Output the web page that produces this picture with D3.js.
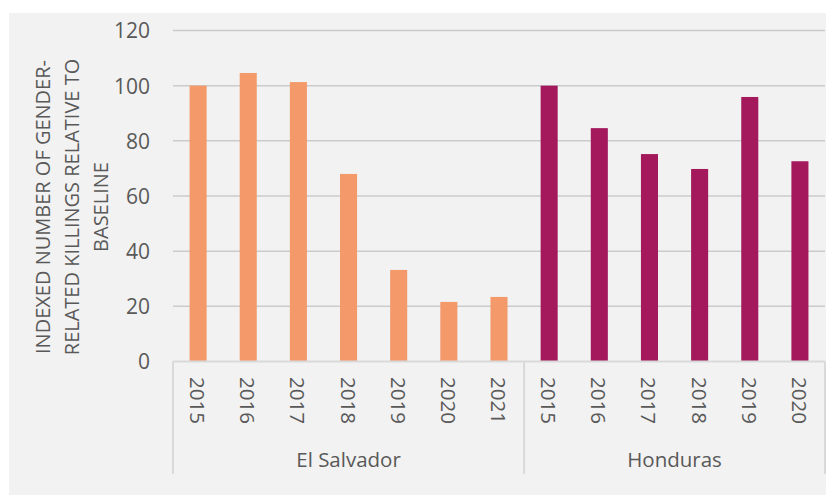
<!DOCTYPE html>
<html><head><meta charset="utf-8">
<script src="https://cdn.jsdelivr.net/npm/d3@7"></script>
<style>
html,body{margin:0;padding:0;background:#fff;}
svg{display:block;}
text{font-family:"Open Sans",sans-serif;fill:#595959;}
</style></head>
<body>
<script>
const groups = ["El Salvador", "Honduras"];
const elSalvadorYears = ["2015","2016","2017","2018","2019","2020","2021"];
const elSalvadorValues = [100, 104.6, 101.3, 68.0, 33.2, 21.6, 23.4];
const hondurasYears = ["2015","2016","2017","2018","2019","2020"];
const hondurasValues = [100, 84.6, 75.2, 69.8, 95.9, 72.6];
const groupColors = ["#f4996a", "#a3195b"];
const yTicks = [0, 20, 40, 60, 80, 100, 120];
const yTitleLines = ["INDEXED NUMBER OF GENDER-", "RELATED KILLINGS RELATIVE TO", "BASELINE"];

const W = 826, H = 495;
const rows = [];
elSalvadorYears.forEach((y,i)=>rows.push({group:0, year:y, value:elSalvadorValues[i], key:"0-"+y}));
hondurasYears.forEach((y,i)=>rows.push({group:1, year:y, value:hondurasValues[i], key:"1-"+y}));

const svg = d3.select("body").append("svg").attr("width",W).attr("height",H);
svg.append("rect").attr("x",9).attr("y",13).attr("width",W-9).attr("height",H-13).attr("fill","#f2f2f2");

const x = d3.scaleBand().domain(rows.map(d=>d.key)).range([173,825]).padding(0);
const y = d3.scaleLinear().domain([0,120]).range([361.5,30.5]);

// gridlines
svg.append("g").selectAll("line").data(yTicks.filter(t=>t>0)).join("line")
  .attr("x1",173).attr("x2",825)
  .attr("y1",d=>y(d)).attr("y2",d=>y(d))
  .attr("stroke","#cbcbcb").attr("stroke-width",1.5);

// y axis labels
const yAxis = d3.axisLeft(y).tickValues(yTicks).tickSize(0).tickPadding(0);
const gy = svg.append("g").attr("transform","translate(150,0)").call(yAxis);
gy.select(".domain").remove();
gy.selectAll("text").attr("font-size",21).attr("fill","#595959")
  .style("font-family",'"Open Sans",sans-serif').attr("dy","0.35em");

// bars
const bw = x.bandwidth()*0.34;
svg.append("g").selectAll("rect").data(rows).join("rect")
  .attr("x",d=>x(d.key)+x.bandwidth()/2-bw/2)
  .attr("width",bw)
  .attr("y",d=>y(d.value))
  .attr("height",d=>y(0)-y(d.value))
  .attr("fill",d=>groupColors[d.group]);

// x axis line
svg.append("line").attr("x1",173).attr("x2",825).attr("y1",y(0)).attr("y2",y(0))
  .attr("stroke","#d9d9d9").attr("stroke-width",2);

// year labels
svg.append("g").selectAll("text").data(rows).join("text")
  .attr("transform",d=>`translate(${x(d.key)+x.bandwidth()/2},377) rotate(90)`)
  .attr("dominant-baseline","central")
  .attr("font-size",20.5)
  .text(d=>d.year);

// group separators and labels
const groupBounds = groups.map((g,gi)=>{
  const ks = rows.filter(r=>r.group===gi).map(r=>r.key);
  return {name:g, x0:x(ks[0]), x1:x(ks[ks.length-1])+x.bandwidth()};
});
const seps = [groupBounds[0].x0, ...groupBounds.map(b=>b.x1)];
svg.append("g").selectAll("line").data(seps).join("line")
  .attr("x1",d=>d).attr("x2",d=>d).attr("y1",y(0)).attr("y2",474)
  .attr("stroke","#d9d9d9").attr("stroke-width",2);
svg.append("g").selectAll("text").data(groupBounds).join("text")
  .attr("x",d=>(d.x0+d.x1)/2).attr("y",459)
  .attr("text-anchor","middle").attr("dominant-baseline","central")
  .attr("font-size",20.5)
  .text(d=>d.name);

// y title
const tg = svg.append("g").attr("transform","translate(0,207) rotate(-90)");
tg.selectAll("text").data(yTitleLines).join("text")
  .attr("x",0).attr("y",(d,i)=>42+i*29)
  .attr("text-anchor","middle").attr("dominant-baseline","central")
  .attr("font-size",20)
  .text(d=>d);
</script>
</body></html>
